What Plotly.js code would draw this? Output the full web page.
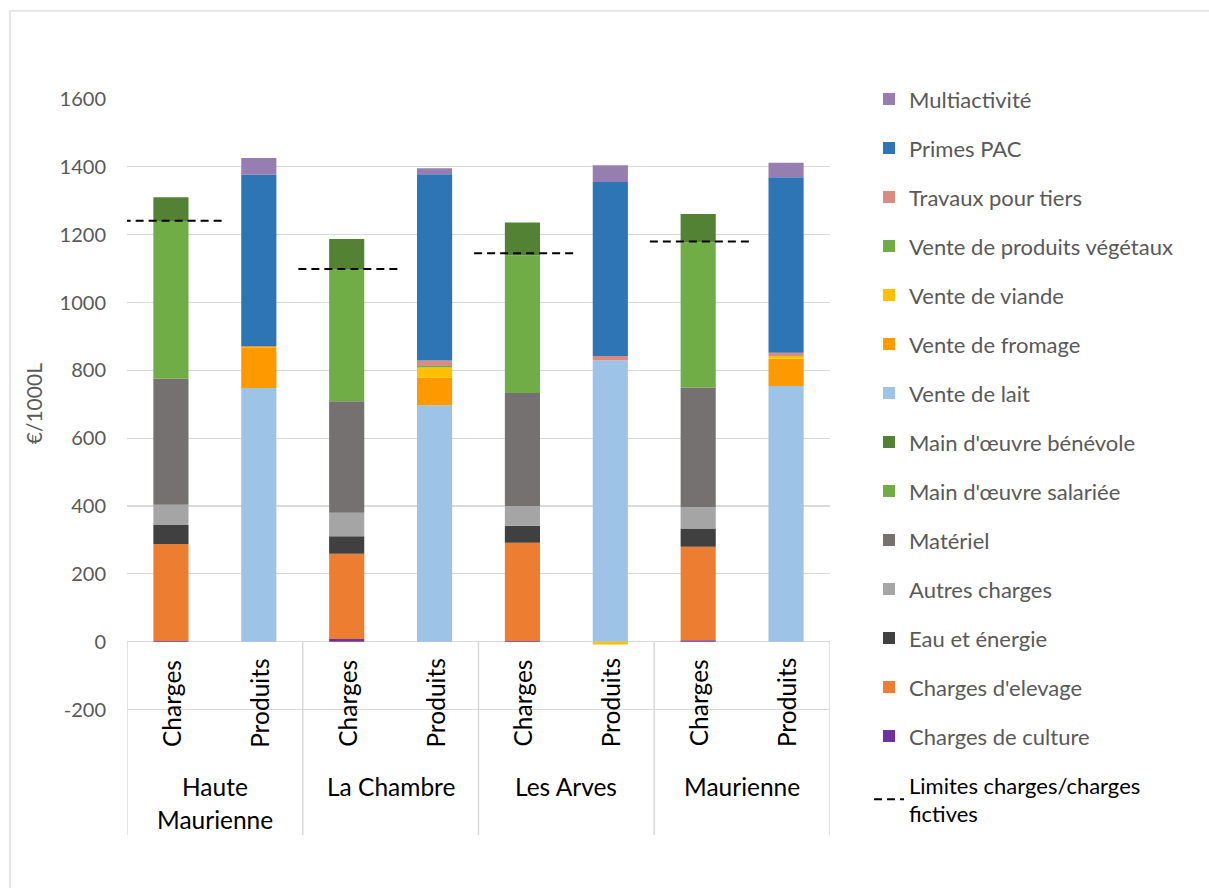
<!DOCTYPE html>
<html>
<head>
<meta charset="utf-8">
<script src="https://cdn.plot.ly/plotly-3.0.1.min.js"></script>
<style>html,body{margin:0;padding:0;background:#fff;}#chart{width:1209px;height:888px;}</style>
</head>
<body>
<div id="chart"></div>
<script>
// ---- Data ----
var regionLines = [["Haute", "Maurienne"], ["La Chambre"], ["Les Arves"], ["Maurienne"]];
var barLabels = ["Charges", "Produits"];

// Charges (€/1000L), one value per region
var chargesCulture  = [2, 8, 2, 4];
var chargesElevage  = [286, 251, 290, 276];
var eauEnergie      = [56, 52, 50, 54];
var autresCharges   = [60, 69, 58, 62];
var materiel        = [371, 329, 333, 353];
var moSalariee      = [465, 390, 406, 429];
var moBenevole      = [70, 88, 97, 83];

// Produits (€/1000L), one value per region
var venteLait       = [748, 697, 830, 754];
var venteFromage    = [118, 81, 0, 80];
var venteViande     = [3, 30, -8, 8];
var venteVegetaux   = [0, 5, 0, 0];
var travauxTiers    = [3, 16, 12, 10];
var primesPAC       = [505, 549, 513, 517];
var multiactivite   = [49, 18, 50, 43];

// Limits charges / charges fictives
var limites         = [1241, 1099, 1145, 1180];

var yTicks = [-200, 0, 200, 400, 600, 800, 1000, 1200, 1400, 1600];

// ---- Build ----
var FONT = "Lato, 'Open Sans', sans-serif";
var nR = regionLines.length;
function xs(j) { var a = []; for (var i = 0; i < nR; i++) a.push(2 * i + j); return a; }

var series = [
  {name: "Charges de culture", y: chargesCulture, j: 0, color: "#7030a0", rank: 14},
  {name: "Charges d'elevage", y: chargesElevage, j: 0, color: "#ed7d31", rank: 13},
  {name: "Eau et énergie", y: eauEnergie, j: 0, color: "#404040", rank: 12},
  {name: "Autres charges", y: autresCharges, j: 0, color: "#a5a5a5", rank: 11},
  {name: "Matériel", y: materiel, j: 0, color: "#767171", rank: 10},
  {name: "Main d'œuvre salariée", y: moSalariee, j: 0, color: "#70ad47", rank: 9},
  {name: "Main d'œuvre bénévole", y: moBenevole, j: 0, color: "#548235", rank: 8},
  {name: "Vente de lait", y: venteLait, j: 1, color: "#9dc3e6", rank: 7},
  {name: "Vente de fromage", y: venteFromage, j: 1, color: "#ff9900", rank: 6},
  {name: "Vente de viande", y: venteViande, j: 1, color: "#ffc000", rank: 5},
  {name: "Vente de produits végétaux", y: venteVegetaux, j: 1, color: "#70ad47", rank: 4},
  {name: "Travaux pour tiers", y: travauxTiers, j: 1, color: "#d98b80", rank: 3},
  {name: "Primes PAC", y: primesPAC, j: 1, color: "#2e75b6", rank: 2},
  {name: "Multiactivité", y: multiactivite, j: 1, color: "#967eb0", rank: 1}
];

var traces = series.map(function (s) {
  return {
    type: "bar", name: s.name, x: xs(s.j), y: s.y,
    marker: {color: s.color, line: {width: 0}},
    legendrank: s.rank, legendgroup: s.name, hoverinfo: "name+y"
  };
});

var lx = [], ly = [];
limites.forEach(function (v, i) {
  lx.push(2 * i - 0.55, 2 * i + 0.58, null);
  ly.push(v, v, null);
});
traces.push({
  type: "scatter", mode: "lines", x: lx, y: ly,
  name: '<span style="color:#000000">Limites charges/charges<br>fictives</span>',
  line: {color: "#000000", width: 2, dash: "8px,5px"},
  legendrank: 15, legendgroup: "limites", hoverinfo: "skip"
});

var shapes = [];
// dividers of the category axis
for (var d = 0; d <= nR; d++) {
  shapes.push({type: "line", xref: "x", yref: "y", x0: 2 * d - 0.5, x1: 2 * d - 0.5, y0: 0, y1: -570,
    line: {color: "#d9d9d9", width: 1.5}, layer: "below"});
}
// outer chart border
shapes.push({type: "rect", xref: "paper", yref: "paper", x0: -0.1664, x1: 1.8, y0: -0.2, y1: 1.1196,
  line: {color: "#d9d9d9", width: 1.3}, fillcolor: "rgba(0,0,0,0)", layer: "below"});

var annotations = [];
for (var i = 0; i < nR; i++) {
  barLabels.forEach(function (t, j) {
    annotations.push({xref: "x", yref: "y", x: 2 * i + j, y: -181, text: t, textangle: -90,
      showarrow: false, xanchor: "center", yanchor: "middle",
      font: {family: FONT, size: 24.5, color: "#000000"}});
  });
  regionLines[i].forEach(function (t, k) {
    annotations.push({xref: "x", yref: "y", x: 2 * i + 0.5, y: -428, yshift: -33 * k, text: t,
      showarrow: false, xanchor: "center", yanchor: "middle",
      font: {family: FONT, size: 24.5, color: "#000000"}});
  });
}
annotations.push({xref: "paper", yref: "y", x: -0.1337, y: 700, text: "€/1000L", textangle: -90,
  showarrow: false, xanchor: "center", yanchor: "middle",
  font: {family: FONT, size: 21, color: "#595959"}});

var layout = {
  width: 1209, height: 888,
  margin: {l: 127, r: 379, t: 99, b: 53, pad: 0},
  paper_bgcolor: "#ffffff", plot_bgcolor: "#ffffff",
  barmode: "relative", bargap: 0.6,
  font: {family: FONT, size: 20, color: "#595959"},
  xaxis: {range: [-0.5, 7.5], showticklabels: false, showgrid: false, zeroline: false,
    showline: false, ticks: "", fixedrange: true},
  yaxis: {range: [-570, 1600], tickmode: "array", tickvals: yTicks, ticktext: yTicks.map(String),
    showgrid: true, gridcolor: "#d9d9d9", gridwidth: 1.3,
    zeroline: true, zerolinecolor: "#d9d9d9", zerolinewidth: 1.5,
    showline: false, ticks: "", ticklabelstandoff: 20, fixedrange: true,
    tickfont: {family: FONT, size: 20, color: "#595959"}},
  legend: {x: 1.0555, xanchor: "left", y: 1.0283, yanchor: "top", traceorder: "grouped",
    tracegroupgap: 17.4, bgcolor: "rgba(0,0,0,0)", maxheight: 1000,
    font: {family: FONT, size: 22, color: "#595959"}},
  shapes: shapes,
  annotations: annotations,
  showlegend: true
};

Plotly.newPlot("chart", traces, layout, {displayModeBar: false, staticPlot: true});
</script>
</body>
</html>
